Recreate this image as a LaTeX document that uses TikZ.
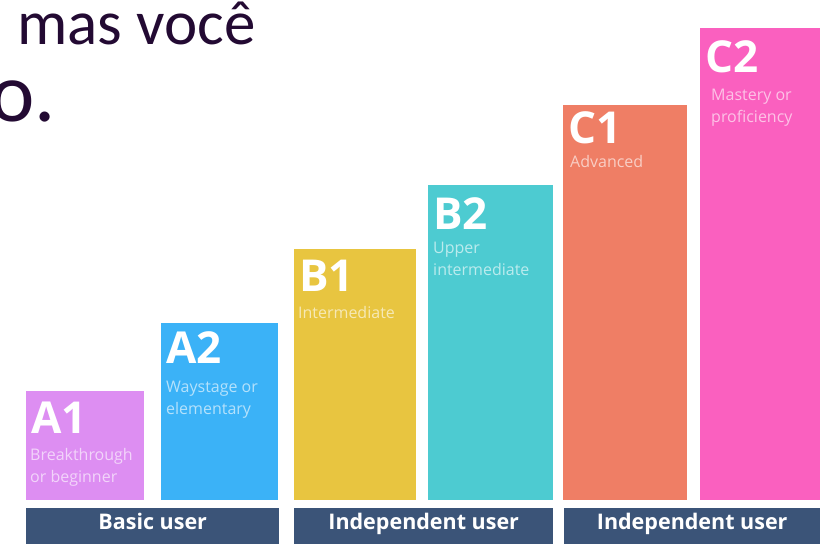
\documentclass[tikz,border=0pt]{standalone}
\usepackage{fontspec}
\setmainfont{Open Sans}
\newfontfamily\slidefont{Carlito}
\definecolor{levelAa}{HTML}{DD8EF2}
\definecolor{levelAb}{HTML}{3BB2F7}
\definecolor{levelBa}{HTML}{E8C540}
\definecolor{levelBb}{HTML}{4DCBD1}
\definecolor{levelCa}{HTML}{EF7E65}
\definecolor{levelCb}{HTML}{FA60BF}
\definecolor{usernavy}{HTML}{3B5478}
\definecolor{slideink}{HTML}{230A33}
\tikzset{
  level/.style={anchor=south west,inner sep=0pt,minimum width=#1},
  code/.style={anchor=base west,inner sep=0pt,text=white,font=\fontsize{44}{44}\selectfont\bfseries},
  descr/.style={anchor=base west,inner sep=0pt,align=left,text=white,text opacity=0.62,
    font=\fontsize{16}{22}\selectfont},
  userbar/.style={anchor=north west,inner sep=0pt,fill=usernavy,minimum height=36pt,
    text height=12pt,text depth=6pt,text=white,font=\fontsize{21.5}{21.5}\selectfont\bfseries},
}
\begin{document}
\begin{tikzpicture}[x=1pt,y=-1pt]
			\useasboundingbox[fill=white] (0,0) rectangle (820,549);
			
			\node[anchor=base west,inner sep=0pt,text=slideink,font=\slidefont\fontsize{63}{63}\selectfont] (line1) at (17,44) {mas você};
			\node[anchor=base west,inner sep=0pt,text=slideink,font=\slidefont\fontsize{84}{84}\selectfont] (line2) at (-10,121) {o.};
			
			\node[level=118pt,fill=levelAa,minimum height=109pt] (barA1) at (26,500) {};
			\node[level=117pt,fill=levelAb,minimum height=177pt] (barA2) at (161,500) {};
			\node[level=122pt,fill=levelBa,minimum height=251pt] (barB1) at (294,500) {};
			\node[level=125pt,fill=levelBb,minimum height=315pt] (barB2) at (428,500) {};
			\node[level=124pt,fill=levelCa,minimum height=395pt] (barC1) at (563,500) {};
			\node[level=120pt,fill=levelCb,minimum height=472pt] (barC2) at (700,500) {};
			
			\node[code] (codeA1) at (31,433) {A1};
			\node[code] (codeA2) at (166,363) {A2};
			\node[code] (codeB1) at (299,291) {B1};
			\node[code] (codeB2) at (433,229) {B2};
			\node[code] (codeC1) at (568,143) {C1};
			\node[code] (codeC2) at (705,72) {C2};
			
			% base of a two-line text is its last line
			\node[descr] (descA1) at (30,482) {Breakthrough\\or beginner};
			\node[descr] (descA2) at (166,414) {Waystage or\\elementary};
			\node[descr] (descB1) at (298,318) {Intermediate};
			\node[descr] (descB2) at (433,275) {Upper\\intermediate};
			\node[descr] (descC1) at (570,167) {Advanced};
			\node[descr] (descC2) at (711,122) {Mastery or\\proficiency};
			
			\node[userbar,minimum width=253pt] (basic) at (26,508) {Basic user};
			\node[userbar,minimum width=259pt] (indepB) at (294,508) {Independent user};
			\node[userbar,minimum width=256pt] (indepC) at (564,508) {Independent user};
\end{tikzpicture}
\end{document}
